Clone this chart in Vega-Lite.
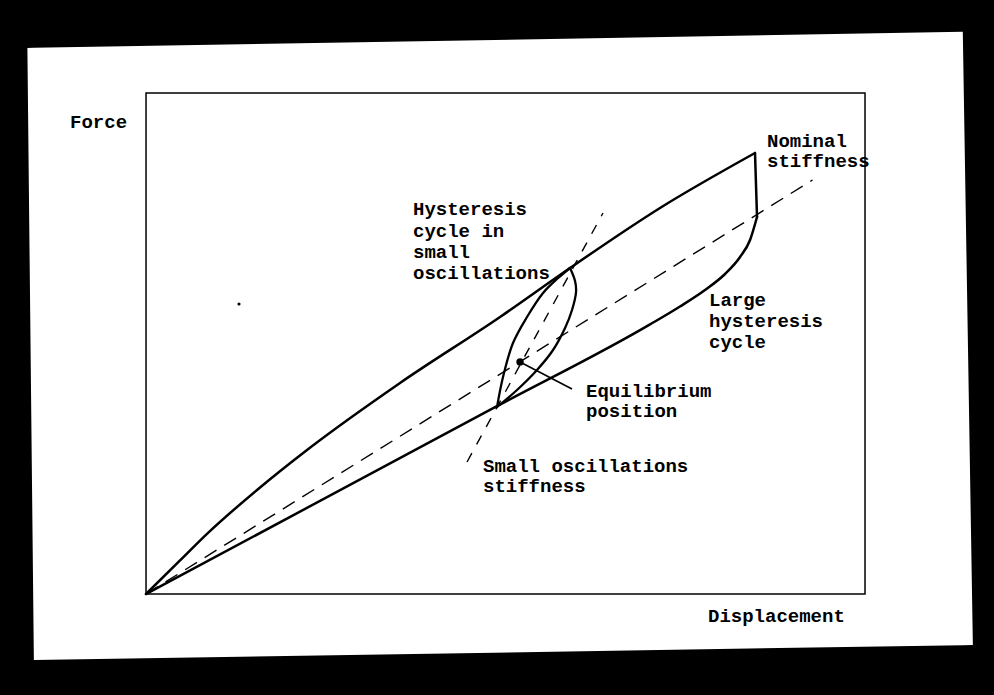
{
  "$schema": "https://vega.github.io/schema/vega-lite/v6.json",
  "width": 994,
  "height": 695,
  "autosize": {"type": "fit", "contains": "padding"},
  "padding": 0,
  "background": "black",
  "config": {"view": {"stroke": null}},
  "datasets": {
    "paper": [
      {"x": -16.5, "y": 108.98, "y2": 108.98},
      {"x": -15.6, "y": 109.01, "y2": -13.17},
      {"x": 113.6, "y": 112.2, "y2": -10.21},
      {"x": 115.0, "y": -10.18, "y2": -10.18}
    ],
    "box": [{"x": 0, "x2": 100, "y": 0, "y2": 100}],
    "segments": [
      {"seg": "upper", "i": 0, "x": 0, "y": 0},
      {"seg": "upper", "i": 1, "x": 4.73, "y": 6.69},
      {"seg": "upper", "i": 2, "x": 8.48, "y": 12.0},
      {"seg": "upper", "i": 3, "x": 15.44, "y": 20.76},
      {"seg": "upper", "i": 4, "x": 22.39, "y": 28.74},
      {"seg": "upper", "i": 5, "x": 35.33, "y": 42.12},
      {"seg": "upper", "i": 6, "x": 49.24, "y": 55.29},
      {"seg": "upper", "i": 7, "x": 58.97, "y": 65.07},
      {"seg": "upper", "i": 8, "x": 71.49, "y": 77.05},
      {"seg": "upper", "i": 9, "x": 84.7, "y": 88.02},
      {"seg": "lowercurve", "i": 0, "x": 0, "y": 0},
      {"seg": "lowercurve", "i": 1, "x": 48.61, "y": 37.33},
      {"seg": "lowercurve", "i": 2, "x": 70.1, "y": 53.81},
      {"seg": "lowercurve", "i": 3, "x": 74.27, "y": 57.39},
      {"seg": "lowercurve", "i": 4, "x": 77.75, "y": 60.68},
      {"seg": "lowercurve", "i": 5, "x": 80.53, "y": 63.87},
      {"seg": "lowercurve", "i": 6, "x": 82.62, "y": 67.27},
      {"seg": "lowercurve", "i": 7, "x": 84.01, "y": 70.66},
      {"seg": "lowercurve", "i": 8, "x": 84.98, "y": 75.25}
    ],
    "lens": [
      {"side": "L", "i": 0, "x": 48.82, "y": 37.33},
      {"side": "L", "i": 1, "x": 49.65, "y": 43.31},
      {"side": "L", "i": 2, "x": 51.04, "y": 50.1},
      {"side": "L", "i": 3, "x": 52.99, "y": 55.29},
      {"side": "L", "i": 4, "x": 55.22, "y": 60.08},
      {"side": "L", "i": 5, "x": 57.16, "y": 62.87},
      {"side": "L", "i": 6, "x": 58.97, "y": 65.07},
      {"side": "R", "i": 0, "x": 48.82, "y": 37.33},
      {"side": "R", "i": 1, "x": 51.6, "y": 40.72},
      {"side": "R", "i": 2, "x": 54.38, "y": 44.71},
      {"side": "R", "i": 3, "x": 56.61, "y": 48.7},
      {"side": "R", "i": 4, "x": 58.28, "y": 53.09},
      {"side": "R", "i": 5, "x": 59.25, "y": 56.69},
      {"side": "R", "i": 6, "x": 59.81, "y": 60.28},
      {"side": "R", "i": 7, "x": 59.67, "y": 62.48},
      {"side": "R", "i": 8, "x": 58.97, "y": 65.07}
    ],
    "vertical": [
      {"i": 0, "x": 84.7, "y": 88.02},
      {"i": 1, "x": 84.84, "y": 81.64},
      {"i": 2, "x": 84.98, "y": 75.25}
    ],
    "nominal": [
      {"i": 0, "x": 0, "y": 0},
      {"i": 1, "x": 92.7, "y": 82.63}
    ],
    "smallStiff": [
      {"i": 0, "x": 44.65, "y": 26.35},
      {"i": 1, "x": 63.56, "y": 76.05}
    ],
    "pointer": [
      {"i": 0, "x": 52.02, "y": 46.31},
      {"i": 1, "x": 59.25, "y": 40.92}
    ],
    "dots": [
      {"x": 52.02, "y": 46.31, "s": 55},
      {"x": 12.93, "y": 57.88, "s": 10}
    ],
    "labels": [
      {"x": -10.57, "y": 93.01, "t": "Force"},
      {"x": 78.16, "y": -5.59, "t": "Displacement"},
      {"x": 86.37, "y": 89.22, "t": "Nominal"},
      {"x": 86.37, "y": 85.23, "t": "stiffness"},
      {"x": 37.13, "y": 75.65, "t": "Hysteresis"},
      {"x": 37.13, "y": 71.26, "t": "cycle in"},
      {"x": 37.13, "y": 67.07, "t": "small"},
      {"x": 37.13, "y": 62.87, "t": "oscillations"},
      {"x": 78.3, "y": 57.49, "t": "Large"},
      {"x": 78.3, "y": 53.29, "t": "hysteresis"},
      {"x": 78.3, "y": 49.1, "t": "cycle"},
      {"x": 61.2, "y": 39.32, "t": "Equilibrium"},
      {"x": 61.2, "y": 35.33, "t": "position"},
      {"x": 46.87, "y": 24.35, "t": "Small oscillations"},
      {"x": 46.87, "y": 20.36, "t": "stiffness"}
    ]
  },
  "encoding": {
    "x": {"field": "x", "type": "quantitative", "scale": {"domain": [-20.31, 117.94], "nice": false, "zero": false}, "axis": null},
    "y": {"field": "y", "type": "quantitative", "scale": {"domain": [-20.16, 118.56], "nice": false, "zero": false}, "axis": null}
  },
  "layer": [
    {
      "data": {"name": "paper"},
      "mark": {"type": "area", "color": "white", "opacity": 1},
      "encoding": {"y2": {"field": "y2"}}
    },
    {
      "data": {"name": "box"},
      "mark": {"type": "rect", "filled": false, "stroke": "black", "strokeWidth": 1.5},
      "encoding": {"x2": {"field": "x2"}, "y2": {"field": "y2"}}
    },
    {
      "data": {"name": "nominal"},
      "mark": {"type": "line", "color": "black", "strokeWidth": 1.4, "strokeDash": [14, 9]},
      "encoding": {"order": {"field": "i"}}
    },
    {
      "data": {"name": "smallStiff"},
      "mark": {"type": "line", "color": "black", "strokeWidth": 1.4, "strokeDash": [10, 10]},
      "encoding": {"order": {"field": "i"}}
    },
    {
      "data": {"name": "segments"},
      "mark": {"type": "line", "color": "black", "strokeWidth": 2.5, "strokeCap": "round", "interpolate": "monotone"},
      "encoding": {"detail": {"field": "seg"}, "order": {"field": "i"}}
    },
    {
      "data": {"name": "vertical"},
      "mark": {"type": "line", "color": "black", "strokeWidth": 2.5, "strokeCap": "round"},
      "encoding": {"order": {"field": "i"}}
    },
    {
      "data": {"name": "lens"},
      "mark": {"type": "line", "color": "black", "strokeWidth": 2.3, "strokeCap": "round", "interpolate": "catmull-rom"},
      "encoding": {"detail": {"field": "side"}, "order": {"field": "i"}}
    },
    {
      "data": {"name": "pointer"},
      "mark": {"type": "line", "color": "black", "strokeWidth": 1.6},
      "encoding": {"order": {"field": "i"}}
    },
    {
      "data": {"name": "dots"},
      "mark": {"type": "point", "filled": true, "color": "black", "opacity": 1, "shape": "circle"},
      "encoding": {"size": {"field": "s", "type": "quantitative", "scale": null}}
    },
    {
      "data": {"name": "labels"},
      "mark": {"type": "text", "align": "left", "baseline": "alphabetic", "font": "Liberation Mono", "fontSize": 19, "fontWeight": "bold", "color": "black"},
      "encoding": {"text": {"field": "t"}}
    }
  ]
}
